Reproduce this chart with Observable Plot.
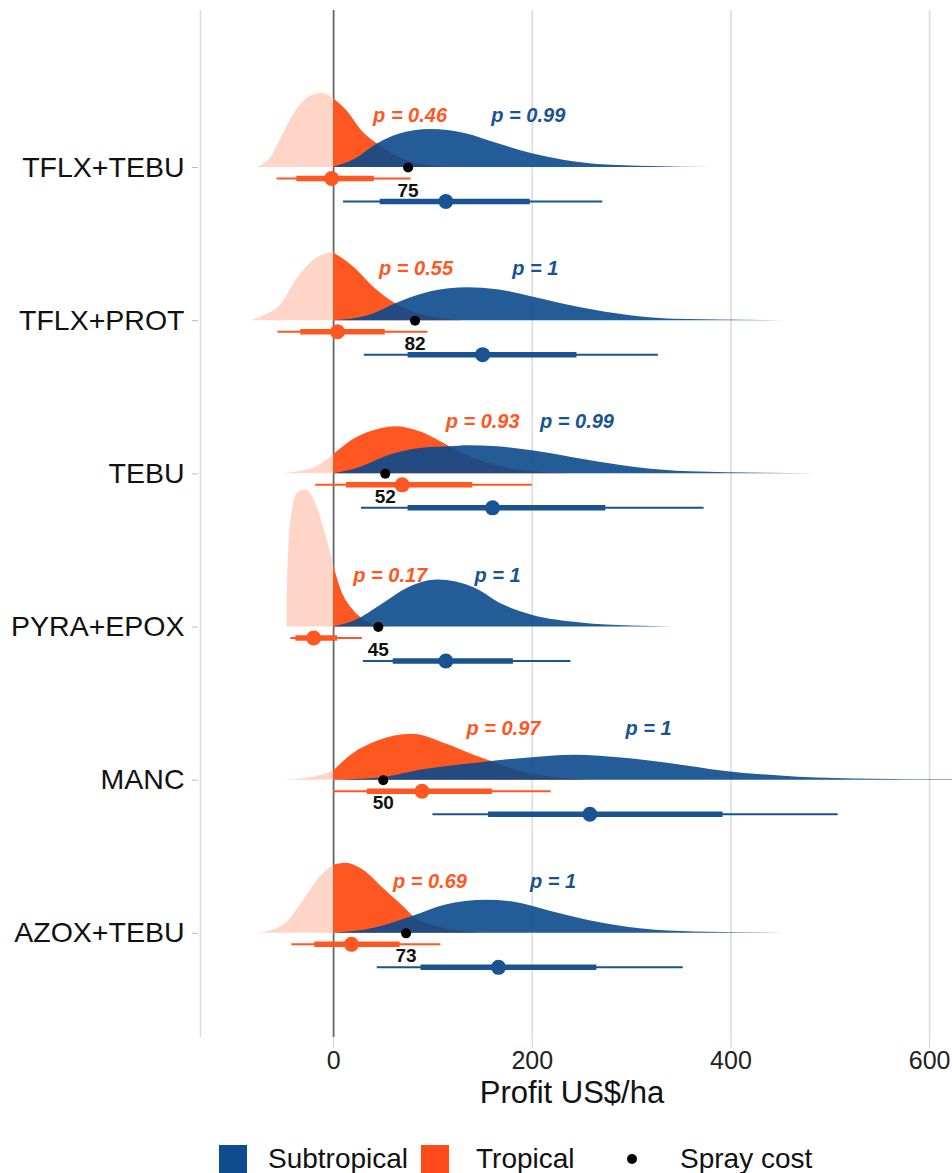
<!DOCTYPE html>
<html>
<head>
<meta charset="utf-8">
<script src="https://cdn.jsdelivr.net/npm/d3@7"></script>
<script src="https://cdn.jsdelivr.net/npm/@observablehq/plot@0.6"></script>
<style>
  html, body { margin: 0; padding: 0; background: #fff; }
  body { width: 952px; height: 1173px; overflow: hidden; font-family: "Liberation Sans", Arial, sans-serif; }
  #chart svg { display: block; }
  #legend { position: relative; width: 952px; height: 59px; font-size: 28px; color: #111; }
  #legend .sw { position: absolute; top: 31px; width: 28px; height: 28px; }
  #legend .lab { position: absolute; top: 45px; transform: translateY(-50%); line-height: 1; white-space: nowrap; }
  #legend .dot { position: absolute; width: 10px; height: 10px; border-radius: 50%; background: #000; top: 40px; }
</style>
</head>
<body>
<div id="chart"></div>
<div id="legend">
  <div class="sw" style="left:219px;background:#0E4C8E"></div>
  <div class="lab" style="left:268px">Subtropical</div>
  <div class="sw" style="left:421px;background:#FF4A1C"></div>
  <div class="lab" style="left:476px">Tropical</div>
  <div class="dot" style="left:627px"></div>
  <div class="lab" style="left:680px">Spray cost</div>
</div>
<script>
// ---------------- data ----------------
const treatments = ["TFLX+TEBU", "TFLX+PROT", "TEBU", "PYRA+EPOX", "MANC", "AZOX+TEBU"];
const sprayCost = [75, 82, 52, 45, 50, 73];

const pTropical = [0.46, 0.55, 0.93, 0.17, 0.97, 0.69];
const pSubtropical = [0.99, 1, 0.99, 1, 1, 1];
const pLabelXTropical = [77, 83, 150, 57, 171, 97];
const pLabelXSubtropical = [196, 203, 245, 165, 317, 221];

// intervals: [low, high]
const tropicalOuter = [[-57, 78], [-56, 95], [-18, 200], [-43, 29], [0, 219], [-42, 108]];
const tropicalInner = [[-37, 41], [-33, 52], [13, 140], [-38, 4], [34, 160], [-19, 67]];
const tropicalMedian = [-2, 4, 69, -20, 89, 18];
const subtropicalOuter = [[10, 271], [31, 327], [28, 373], [30, 239], [100, 508], [44, 352]];
const subtropicalInner = [[47, 198], [75, 245], [75, 274], [60, 181], [156, 392], [88, 265]];
const subtropicalMedian = [113, 150, 160, 113, 258, 166];

// densities: [profit, scaled density]
const tropicalDensity = [
  [[-77,0],[-63,0.10],[-53,0.29],[-36,0.59],[-19,0.73],[-11,0.74],[0,0.69],[14,0.56],[28,0.37],[45,0.23],[60,0.13],[80,0.05],[100,0.015],[120,0]],
  [[-83,0],[-70,0.05],[-53,0.16],[-36,0.43],[-19,0.61],[-7,0.67],[0,0.68],[21,0.53],[41,0.33],[61,0.18],[80,0.09],[100,0.035],[130,0]],
  [[-53,0],[-35,0.02],[-19,0.06],[0,0.19],[23,0.36],[44,0.44],[62,0.47],[87,0.42],[108,0.32],[117,0.27],[140,0.16],[170,0.07],[200,0.02],[240,0]],
  [[-47,0],[-46.5,0.40],[-45,0.79],[-41,1.19],[-36,1.34],[-28,1.37],[-19,1.26],[-9,0.96],[0,0.62],[8,0.36],[18,0.19],[28,0.09],[41,0.02],[55,0]],
  [[-56,0],[-35,0.01],[-16,0.04],[0,0.09],[19,0.26],[44,0.39],[79,0.46],[114,0.36],[144,0.24],[164,0.17],[190,0.08],[220,0.03],[260,0]],
  [[-74,0],[-48,0.10],[-30,0.33],[-12,0.58],[0,0.68],[12,0.70],[30,0.63],[51,0.44],[73,0.24],[80,0.17],[100,0.08],[120,0.03],[150,0]]
];
const subtropicalDensity = [
  [[0,0],[21,0.08],[45,0.24],[65,0.33],[98,0.38],[132,0.34],[165,0.24],[199,0.14],[233,0.07],[266,0.03],[320,0.01],[382,0]],
  [[0,0],[35,0.05],[65,0.18],[98,0.29],[135,0.33],[165,0.31],[199,0.24],[249,0.13],[299,0.05],[343,0.015],[476,0]],
  [[0,0],[23,0.05],[58,0.19],[94,0.26],[117,0.27],[136,0.28],[165,0.27],[200,0.23],[253,0.14],[306,0.06],[359,0.02],[486,0]],
  [[0,0],[21,0.06],[48,0.22],[75,0.39],[105,0.47],[142,0.39],[169,0.23],[199,0.12],[249,0.04],[300,0.01],[341,0]],
  [[0,0],[44,0.02],[94,0.11],[144,0.17],[194,0.22],[243,0.25],[293,0.22],[343,0.16],[393,0.09],[468,0.03],[543,0.01],[624,0.003]],
  [[0,0],[41,0.05],[80,0.17],[112,0.28],[154,0.33],[182,0.31],[218,0.22],[271,0.10],[324,0.03],[377,0.01],[476,0]]
];
const gridX = [-134, 200, 400, 600];
const axisTicks = [0, 200, 400, 600];

// ---------------- derived tables ----------------
const densityToRow = 100 / 153.2;   // scaled density -> row units
const blue = "#0B4A8C", blueLine = "#1A5391", orange = "#FF5722", pink = "#FFD5C8";

function densityRows(list, region) {
  const out = [];
  list.forEach((pts, row) => {
    pts.forEach(([x, h]) => {
      const rec = {row, region, x, base: row, top: row - h * densityToRow};
      if (x <= 0) out.push({...rec, part: "neg", key: `${region}-${row}-neg`});
      if (x >= 0) out.push({...rec, part: "pos", key: `${region}-${row}-pos`});
    });
  });
  return out;
}
const trop = densityRows(tropicalDensity, "Tropical");
const sub = densityRows(subtropicalDensity, "Subtropical");

const intervals = [];
treatments.forEach((t, i) => {
  intervals.push({row: i, region: "Tropical", off: 0.072,
    lo: tropicalOuter[i][0], hi: tropicalOuter[i][1],
    ilo: tropicalInner[i][0], ihi: tropicalInner[i][1], med: tropicalMedian[i]});
  intervals.push({row: i, region: "Subtropical", off: 0.222,
    lo: subtropicalOuter[i][0], hi: subtropicalOuter[i][1],
    ilo: subtropicalInner[i][0], ihi: subtropicalInner[i][1], med: subtropicalMedian[i]});
});
const tropI = intervals.filter(d => d.region === "Tropical");
const subI = intervals.filter(d => d.region === "Subtropical");

const pLabels = [];
treatments.forEach((t, i) => {
  pLabels.push({row: i, x: pLabelXTropical[i], text: `p = ${pTropical[i]}`, region: "Tropical"});
  pLabels.push({row: i, x: pLabelXSubtropical[i], text: `p = ${pSubtropical[i]}`, region: "Subtropical"});
});
const spray = sprayCost.map((c, i) => ({row: i, x: c}));

const font = "'Liberation Sans', Arial, sans-serif";

const chart = Plot.plot({
  width: 952,
  height: 1114,
  marginTop: 10,
  marginBottom: 77,
  marginLeft: 198,
  marginRight: 7,
  style: {fontFamily: font, background: "white", overflow: "visible"},
  x: {domain: [-136, 616]},
  y: {domain: [-1.025, 5.68], reverse: true},
  marks: [
    Plot.ruleX(gridX, {stroke: "#dcdcdc", strokeWidth: 1.6}),
    Plot.axisX({ticks: axisTicks, tickSize: 11, tickPadding: 3, fontSize: 25, stroke: "#cfcfcf", fill: "#222", label: null}),
    Plot.axisY({ticks: d3.range(treatments.length), tickFormat: i => treatments[i], tickSize: 6, tickPadding: 8, fontSize: 28.5, stroke: "#bbb", fill: "#111", label: null}),
    Plot.ruleX([0], {stroke: "#666", strokeWidth: 1.8}),
    Plot.text(["Profit US$/ha"], {frameAnchor: "bottom", dy: 65, fontSize: 31, fill: "#111"}),
    // densities
    Plot.areaY(trop.filter(d => d.part === "neg"), {x: "x", y1: "base", y2: "top", z: "key", fill: pink, curve: "monotone-x"}),
    Plot.areaY(trop.filter(d => d.part === "pos"), {x: "x", y1: "base", y2: "top", z: "key", fill: orange, curve: "monotone-x"}),
    Plot.areaY(sub, {x: "x", y1: "base", y2: "top", z: "key", fill: blue, fillOpacity: 0.9, curve: "monotone-x"}),
    // intervals
    Plot.ruleY(tropI, {y: d => d.row + d.off, x1: "lo", x2: "hi", stroke: orange, strokeWidth: 2}),
    Plot.ruleY(tropI, {y: d => d.row + d.off, x1: "ilo", x2: "ihi", stroke: orange, strokeWidth: 5.5}),
    Plot.dot(tropI, {y: d => d.row + d.off, x: "med", r: 7.5, fill: orange}),
    Plot.ruleY(subI, {y: d => d.row + d.off, x1: "lo", x2: "hi", stroke: blueLine, strokeWidth: 2}),
    Plot.ruleY(subI, {y: d => d.row + d.off, x1: "ilo", x2: "ihi", stroke: blueLine, strokeWidth: 5.5}),
    Plot.dot(subI, {y: d => d.row + d.off, x: "med", r: 7.5, fill: blueLine}),
    // spray cost
    Plot.dot(spray, {x: "x", y: "row", r: 5, fill: "black"}),
    Plot.text(spray, {x: "x", y: d => d.row + 0.15, text: d => String(d.x), fontSize: 19, fontWeight: "bold", fill: "#111"}),
    // p labels
    Plot.text(pLabels, {x: "x", y: d => d.row - 0.338, text: "text", fontSize: 20, fontWeight: "bold", fontStyle: "italic",
      fill: d => d.region === "Tropical" ? orange : blueLine})
  ]
});
document.getElementById("chart").appendChild(chart);
</script>
</body>
</html>
